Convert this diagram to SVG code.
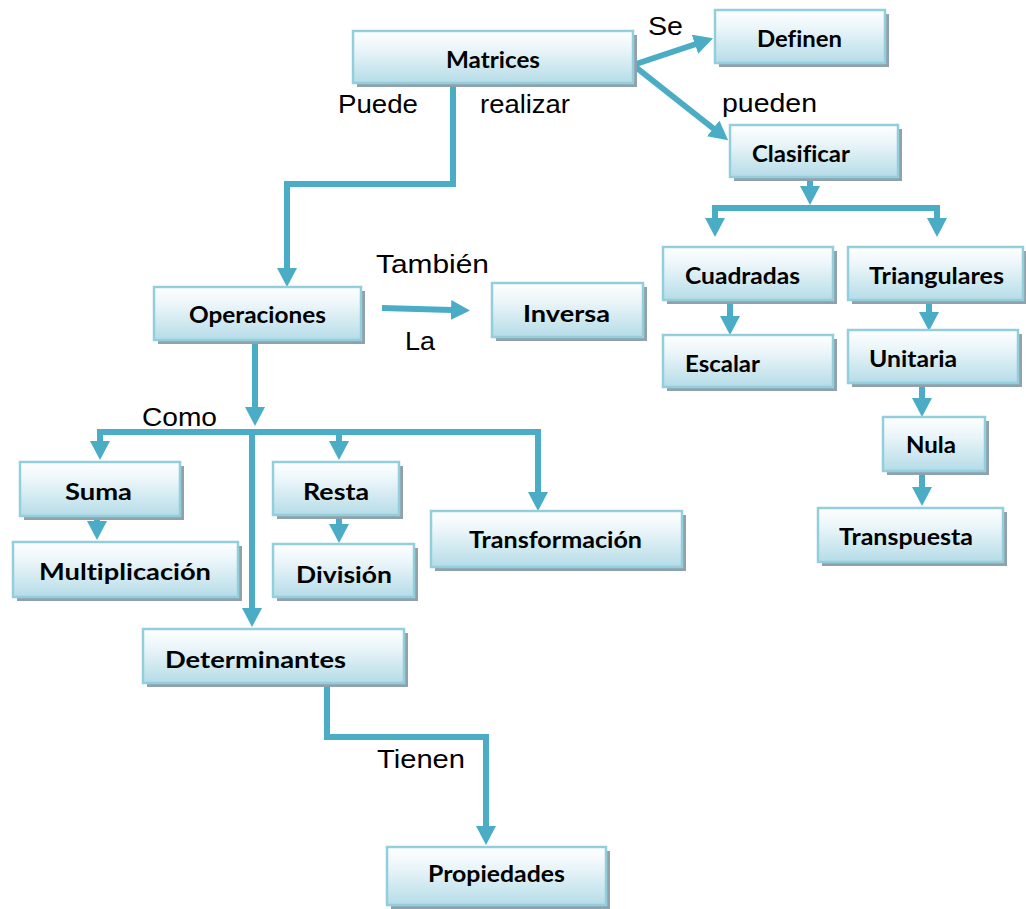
<svg xmlns="http://www.w3.org/2000/svg" width="1026" height="909" viewBox="0 0 1026 909">
  <defs>
    <linearGradient id="boxFill" x1="0" y1="0" x2="0" y2="1">
      <stop offset="0" stop-color="#FFFFFF"/>
      <stop offset="0.35" stop-color="#EAF5F9"/>
      <stop offset="1" stop-color="#B5DCE7"/>
    </linearGradient>
    <marker id="arrow" viewBox="0 0 19 20" refX="1" refY="10" markerWidth="19" markerHeight="20" markerUnits="userSpaceOnUse" orient="auto">
      <path d="M0,0 L19,10 L0,20 z" fill="#4BACC6"/>
    </marker>
  </defs>
  <style>
    .shadow { fill: #8FA2AC; }
    .box { fill: url(#boxFill); stroke: #93CEDD; stroke-width: 2.5; }
    .nt { font-family: Lato, "Open Sans", sans-serif; font-weight: bold; font-size: 23.5px; fill: #000; font-variant-ligatures: none; }
    .lbl { font-family: "Liberation Sans", Arial, sans-serif; font-size: 25px; fill: #000; }
    .conn { fill: none; stroke: #4BACC6; stroke-width: 6; stroke-linejoin: miter; }
    .arr { marker-end: url(#arrow); }
  </style>

  <rect width="1026" height="909" fill="#FFFFFF"/>

  <!-- connectors -->
  <g id="connectors">
    <path class="conn arr" d="M453,83 V184 H287 V269"/>
    <path class="conn arr" d="M633,65 L696,44"/>
    <path class="conn arr" d="M633,65 L714,129"/>
    <path class="conn arr" d="M810,177 V187"/>
    <path class="conn" d="M715,208 H937"/>
    <path class="conn arr" d="M715,205 V219"/>
    <path class="conn arr" d="M937,205 V219"/>
    <path class="conn arr" d="M730,300 V317"/>
    <path class="conn arr" d="M929,300 V313"/>
    <path class="conn arr" d="M922,384 V399"/>
    <path class="conn arr" d="M922,471 V488"/>
    <path class="conn arr" d="M382,308 L452,310"/>
    <path class="conn arr" d="M255,340 V408"/>
    <path class="conn" d="M97,432 H541"/>
    <path class="conn arr" d="M100,429 V442"/>
    <path class="conn arr" d="M339,429 V442"/>
    <path class="conn arr" d="M538,429 V493"/>
    <path class="conn arr" d="M252,429 V609"/>
    <path class="conn arr" d="M97,516 V522"/>
    <path class="conn arr" d="M339,515 V525"/>
    <path class="conn arr" d="M327,683 V737 H486 V827"/>
  </g>

  <!-- connector labels -->
  <g id="labels">
    <text class="lbl" x="648" y="35" textLength="35" lengthAdjust="spacingAndGlyphs">Se</text>
    <text class="lbl" x="338" y="113" textLength="80" lengthAdjust="spacingAndGlyphs">Puede</text>
    <text class="lbl" x="480" y="113" textLength="90" lengthAdjust="spacingAndGlyphs">realizar</text>
    <text class="lbl" x="722" y="112" textLength="95" lengthAdjust="spacingAndGlyphs">pueden</text>
    <text class="lbl" x="376" y="273" textLength="113" lengthAdjust="spacingAndGlyphs">También</text>
    <text class="lbl" x="405" y="350" textLength="30" lengthAdjust="spacingAndGlyphs">La</text>
    <text class="lbl" x="142" y="426" textLength="75" lengthAdjust="spacingAndGlyphs">Como</text>
    <text class="lbl" x="377" y="768" textLength="88" lengthAdjust="spacingAndGlyphs">Tienen</text>
  </g>

  <!-- nodes -->
  <g id="n-matrices">
    <rect class="shadow" x="357" y="35" width="280" height="52"/>
    <rect class="box" x="353" y="31" width="280" height="52"/>
    <text class="nt" x="446" y="68" textLength="94" lengthAdjust="spacingAndGlyphs">Matrices</text>
  </g>
  <g id="n-definen">
    <rect class="shadow" x="719" y="14" width="170" height="53"/>
    <rect class="box" x="715" y="10" width="170" height="53"/>
    <text class="nt" x="757" y="47" textLength="85" lengthAdjust="spacingAndGlyphs">Definen</text>
  </g>
  <g id="n-clasificar">
    <rect class="shadow" x="734" y="129" width="168" height="52"/>
    <rect class="box" x="730" y="125" width="168" height="52"/>
    <text class="nt" x="752" y="162" textLength="98" lengthAdjust="spacingAndGlyphs">Clasificar</text>
  </g>
  <g id="n-cuadradas">
    <rect class="shadow" x="667" y="251" width="170" height="53"/>
    <rect class="box" x="663" y="247" width="170" height="53"/>
    <text class="nt" x="685" y="284" textLength="115" lengthAdjust="spacingAndGlyphs">Cuadradas</text>
  </g>
  <g id="n-triangulares">
    <rect class="shadow" x="852" y="251" width="175" height="53"/>
    <rect class="box" x="848" y="247" width="175" height="53"/>
    <text class="nt" x="869" y="284" textLength="135" lengthAdjust="spacingAndGlyphs">Triangulares</text>
  </g>
  <g id="n-escalar">
    <rect class="shadow" x="667" y="339" width="170" height="52"/>
    <rect class="box" x="663" y="335" width="170" height="52"/>
    <text class="nt" x="685" y="372" textLength="75" lengthAdjust="spacingAndGlyphs">Escalar</text>
  </g>
  <g id="n-unitaria">
    <rect class="shadow" x="852" y="334" width="170" height="53"/>
    <rect class="box" x="848" y="330" width="170" height="53"/>
    <text class="nt" x="869" y="367" textLength="88" lengthAdjust="spacingAndGlyphs">Unitaria</text>
  </g>
  <g id="n-nula">
    <rect class="shadow" x="887" y="421" width="102" height="54"/>
    <rect class="box" x="883" y="417" width="102" height="54"/>
    <text class="nt" x="906" y="453" textLength="50" lengthAdjust="spacingAndGlyphs">Nula</text>
  </g>
  <g id="n-transpuesta">
    <rect class="shadow" x="822" y="512" width="185" height="54"/>
    <rect class="box" x="818" y="508" width="185" height="54"/>
    <text class="nt" x="839" y="545" textLength="134" lengthAdjust="spacingAndGlyphs">Transpuesta</text>
  </g>
  <g id="n-operaciones">
    <rect class="shadow" x="158" y="291" width="207" height="53"/>
    <rect class="box" x="154" y="287" width="207" height="53"/>
    <text class="nt" x="189" y="323" textLength="137" lengthAdjust="spacingAndGlyphs">Operaciones</text>
  </g>
  <g id="n-inversa">
    <rect class="shadow" x="496" y="287" width="151" height="54"/>
    <rect class="box" x="492" y="283" width="151" height="54"/>
    <text class="nt" x="523" y="322" textLength="87" lengthAdjust="spacingAndGlyphs">Inversa</text>
  </g>
  <g id="n-suma">
    <rect class="shadow" x="24" y="466" width="160" height="54"/>
    <rect class="box" x="20" y="462" width="160" height="54"/>
    <text class="nt" x="65" y="500" textLength="67" lengthAdjust="spacingAndGlyphs">Suma</text>
  </g>
  <g id="n-multiplicacion">
    <rect class="shadow" x="17" y="546" width="225" height="55"/>
    <rect class="box" x="13" y="542" width="225" height="55"/>
    <text class="nt" x="39" y="580" textLength="172" lengthAdjust="spacingAndGlyphs">Multiplicación</text>
  </g>
  <g id="n-resta">
    <rect class="shadow" x="277" y="466" width="126" height="53"/>
    <rect class="box" x="273" y="462" width="126" height="53"/>
    <text class="nt" x="303" y="500" textLength="66" lengthAdjust="spacingAndGlyphs">Resta</text>
  </g>
  <g id="n-division">
    <rect class="shadow" x="277" y="548" width="141" height="53"/>
    <rect class="box" x="273" y="544" width="141" height="53"/>
    <text class="nt" x="296" y="583" textLength="96" lengthAdjust="spacingAndGlyphs">División</text>
  </g>
  <g id="n-transformacion">
    <rect class="shadow" x="435" y="515" width="251" height="56"/>
    <rect class="box" x="431" y="511" width="251" height="56"/>
    <text class="nt" x="469" y="548" textLength="173" lengthAdjust="spacingAndGlyphs">Transformación</text>
  </g>
  <g id="n-determinantes">
    <rect class="shadow" x="147" y="633" width="261" height="54"/>
    <rect class="box" x="143" y="629" width="261" height="54"/>
    <text class="nt" x="165" y="668" textLength="181" lengthAdjust="spacingAndGlyphs">Determinantes</text>
  </g>
  <g id="n-propiedades">
    <rect class="shadow" x="391" y="851" width="219" height="58"/>
    <rect class="box" x="387" y="847" width="219" height="58"/>
    <text class="nt" x="428" y="882" textLength="137" lengthAdjust="spacingAndGlyphs">Propiedades</text>
  </g>
</svg>
